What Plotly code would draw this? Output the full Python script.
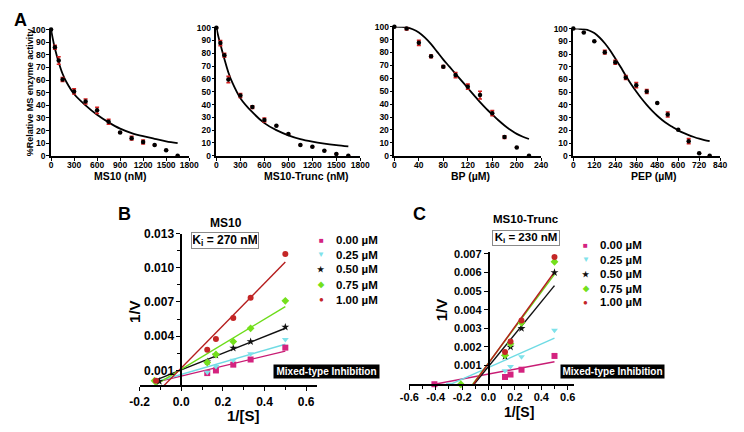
import plotly.graph_objects as go

# The page body has an 8px margin; the figure is sized/offset so that
# reference pixel coordinates map 1:1 onto the screenshot.
OFF = 8
FW, FH = 728, 416
FONT = "Liberation Sans, Arial, Helvetica, sans-serif"

# ---------------- Panel A data ----------------
ms10_x = [0, 50, 100, 150, 300, 450, 600, 750, 900, 1050, 1200, 1350, 1500, 1650]
ms10_y = [100, 86, 75.5, 60.5, 51, 43, 36, 27, 18.5, 14, 11, 8.5, 4.5, 0]
ms10_err = [0, 1.5, 3, 1.5, 2, 2, 2.5, 2, 0.5, 1.5, 1.5, 0, 0, 0]
ms10_fit_x = [0, 25, 50, 100, 150, 200, 300, 450, 600, 750, 900, 1050, 1200, 1350, 1500, 1650]
ms10_fit_y = [100, 92, 85, 74, 65, 58.5, 49, 40, 32.5, 26.5, 21.5, 18, 15.5, 13.5, 11.5, 10]

trunc_x = [0, 50, 100, 150, 300, 450, 600, 750, 900, 1050, 1200, 1350, 1500, 1650]
trunc_y = [100, 88, 78.5, 59.5, 47, 38, 28, 23.5, 17, 8.5, 7, 4, 1.5, 0]
trunc_err = [0, 2, 1.5, 2.5, 1.5, 1, 1.5, 0, 0, 0, 0, 0, 0, 0]
trunc_fit_x = [0, 25, 50, 100, 150, 200, 300, 450, 600, 750, 900, 1050, 1200, 1350, 1500, 1650]
trunc_fit_y = [100, 93, 87, 75.5, 65, 57, 45, 34, 25.5, 20, 16, 13, 11, 9.5, 8.3, 7.3]

bp_x = [0, 20, 40, 60, 80, 100, 120, 140, 160, 180, 200, 220]
bp_y = [100, 98.5, 87.5, 77, 69, 62.5, 53.5, 47, 33, 14.5, 6.5, 0]
bp_err = [0, 1, 2, 1, 0.8, 2, 2, 3, 2, 1, 0, 0]
bp_fit_x = [0, 10, 20, 30, 40, 50, 60, 70, 80, 90, 100, 110, 120, 130, 140, 150, 160, 170, 180, 190, 200, 210, 220]
bp_fit_y = [100, 99.9, 99.5, 98, 95.5, 91.5, 86.5, 80.5, 74.5, 69, 63.5, 58, 52.5, 47, 41.5, 36.5, 32, 27.5, 23.5, 20, 17, 14.8, 13]

pep_x = [0, 60, 120, 180, 240, 300, 360, 420, 480, 540, 600, 660, 720, 780]
pep_y = [100, 97, 90, 81.5, 73.5, 61.5, 55.5, 50.5, 41.5, 32.5, 20.5, 11.5, 2, 0]
pep_err = [0, 0, 0, 1.5, 1.5, 1.5, 2, 1.5, 0, 2, 0, 2, 0, 0]
pep_fit_x = [0, 30, 60, 90, 120, 150, 180, 210, 240, 270, 300, 330, 360, 390, 420, 450, 480, 510, 540, 570, 600, 630, 660, 690, 720, 750, 780]
pep_fit_y = [100, 99.9, 99.5, 98.5, 96.5, 93, 88.5, 83, 76.5, 70, 63, 56.5, 50.5, 45, 40, 35.5, 31.5, 28, 25, 22.5, 20, 18, 16.3, 14.8, 13.5, 12.4, 11.5]

# ---------------- Panel B data (MS10) ----------------
conc_labels = ["0.00 \u00b5M", "0.25 \u00b5M", "0.50 \u00b5M", "0.75 \u00b5M", "1.00 \u00b5M"]
b_x = {
    "0.00": [0.125, 0.1667, 0.25, 0.3333, 0.5],
    "0.25": [0.125, 0.1667, 0.25, 0.3333, 0.5],
    "0.50": [-0.105, 0.125, 0.1667, 0.25, 0.3333, 0.5],
    "0.75": [-0.128, 0.125, 0.1667, 0.25, 0.3333, 0.5],
    "1.00": [-0.121, 0.125, 0.1667, 0.25, 0.3333, 0.5],
}
b_y = {
    "0.00": [0.00077, 0.0010, 0.00151, 0.00196, 0.0030],
    "0.25": [0.00085, 0.00134, 0.0019, 0.00247, 0.00372],
    "0.50": [0.00005, 0.00177, 0.00234, 0.00296, 0.00353, 0.0048],
    "0.75": [0.0001, 0.0017, 0.0024, 0.00353, 0.00469, 0.0071],
    "1.00": [0.0001, 0.00281, 0.00375, 0.0056, 0.00738, 0.0112],
}
b_fit_x = {
    "0.00": [-0.10, 0.5], "0.25": [-0.10, 0.5], "0.50": [-0.12, 0.5],
    "0.75": [-0.136, 0.5], "1.00": [-0.087, 0.5],
}
b_fit_y = {
    "0.00": [0.00006, 0.0027], "0.25": [0.00012, 0.0033], "0.50": [0.00017, 0.0047],
    "0.75": [-0.0004, 0.0066], "1.00": [-0.0004, 0.0105],
}

# ---------------- Panel C data (MS10-Trunc) ----------------
c_x = {
    "0.00": [-0.41, 0.125, 0.1667, 0.25, 0.5],
    "0.25": [-0.30, 0.125, 0.1667, 0.25, 0.5],
    "0.50": [0.125, 0.1667, 0.25, 0.5],
    "0.75": [-0.21, 0.125, 0.1667, 0.25, 0.5],
    "1.00": [0.125, 0.1667, 0.25, 0.5],
}
c_y = {
    "0.00": [0.0, 0.00039, 0.00052, 0.00078, 0.00152],
    "0.25": [0.0, 0.00072, 0.00095, 0.00147, 0.0029],
    "0.50": [0.0015, 0.0020, 0.0030, 0.0060],
    "0.75": [0.0, 0.00156, 0.00217, 0.0033, 0.00658],
    "1.00": [0.00173, 0.0023, 0.00342, 0.00683],
}
c_fit_x = {
    "0.00": [-0.41, 0.5], "0.25": [-0.285, 0.5], "0.50": [-0.11, 0.5],
    "0.75": [-0.12, 0.5], "1.00": [-0.115, 0.5],
}
c_fit_y = {
    "0.00": [0.0, 0.00121], "0.25": [0.0, 0.00248], "0.50": [0.0, 0.0053],
    "0.75": [0.0, 0.0059], "1.00": [0.0, 0.00603],
}

keys = ["0.00", "0.25", "0.50", "0.75", "1.00"]
mk_color = {"0.00": "#d4237f", "0.25": "#7fe2ea", "0.50": "#111111", "0.75": "#74e01c", "1.00": "#c42626"}
ln_color = {"0.00": "#c81c74", "0.25": "#6fdbe4", "0.50": "#111111", "0.75": "#6cdc18", "1.00": "#b51d1d"}
mk_symbol = {"0.00": "square", "0.25": "triangle-down", "0.50": "star", "0.75": "diamond", "1.00": "circle"}
mk_glyph = {"0.00": "\u25a0", "0.25": "\u25bc", "0.50": "\u2605", "0.75": "\u25c6", "1.00": "\u25cf"}


def fx_(p):
    return (p - OFF) / FW


def fy_(p):
    return 1 - (p - OFF) / FH


def dx(a, b):
    return [fx_(a), fx_(b)]


def dy(top, bottom):
    return [fy_(bottom), fy_(top)]


fig = go.Figure()

# ---- Panel A traces ----
a_sets = [
    (ms10_x, ms10_y, ms10_err, ms10_fit_x, ms10_fit_y, "x", "y"),
    (trunc_x, trunc_y, trunc_err, trunc_fit_x, trunc_fit_y, "x2", "y2"),
    (bp_x, bp_y, bp_err, bp_fit_x, bp_fit_y, "x3", "y3"),
    (pep_x, pep_y, pep_err, pep_fit_x, pep_fit_y, "x4", "y4"),
]
for px, py, pe, fx, fy, xa, ya in a_sets:
    fig.add_trace(go.Scatter(x=fx, y=fy, mode="lines", line=dict(color="black", width=1.8, shape="spline"),
                             xaxis=xa, yaxis=ya, showlegend=False, hoverinfo="skip"))
    fig.add_trace(go.Scatter(x=px, y=py, mode="markers",
                             marker=dict(color="black", size=4.5, symbol="circle"),
                             error_y=dict(type="data", array=pe, color="#d42020", thickness=1.6, width=2),
                             xaxis=xa, yaxis=ya, showlegend=False, cliponaxis=False))

# ---- Panel B / C traces ----
for k in keys:
    fig.add_trace(go.Scatter(x=b_fit_x[k], y=b_fit_y[k], mode="lines", line=dict(color=ln_color[k], width=1.4),
                             xaxis="x5", yaxis="y5", showlegend=False, hoverinfo="skip"))
    fig.add_trace(go.Scatter(x=c_fit_x[k], y=c_fit_y[k], mode="lines", line=dict(color=ln_color[k], width=1.4),
                             xaxis="x6", yaxis="y6", showlegend=False, hoverinfo="skip"))
for k in keys:
    fig.add_trace(go.Scatter(x=b_x[k], y=b_y[k], mode="markers",
                             marker=dict(color=mk_color[k], size=6, symbol=mk_symbol[k]),
                             xaxis="x5", yaxis="y5", showlegend=False, cliponaxis=False))
    fig.add_trace(go.Scatter(x=c_x[k], y=c_y[k], mode="markers",
                             marker=dict(color=mk_color[k], size=6, symbol=mk_symbol[k]),
                             xaxis="x6", yaxis="y6", showlegend=False, cliponaxis=False))

axis_common = dict(showline=True, linecolor="black", linewidth=1.6, ticks="outside", ticklen=3,
                   tickwidth=1.2, tickcolor="black", showgrid=False, zeroline=False,
                   tickfont=dict(size=8.5, color="black", family=FONT, weight="bold"))

a_layout = [
    ("xaxis", "yaxis", "y", "x", (42, 184), (23, 153), [0, 1800], 300),
    ("xaxis2", "yaxis2", "y2", "x2", (212, 360), (21, 153), [0, 1800], 300),
    ("xaxis3", "yaxis3", "y3", "x3", (395, 546), (20, 153), [0, 240], 40),
    ("xaxis4", "yaxis4", "y4", "x4", (579, 730), (22, 153), [0, 840], 120),
]
lay = {}
for xname, yname, yanc, xanc, (l, r), (t, b), xr, xd in a_layout:
    lay[xname] = dict(axis_common, domain=dx(l, r), range=xr, dtick=xd, tick0=0, anchor=yanc,
                      ticklabelstandoff=-3)
    lay[yname] = dict(axis_common, domain=dy(t, b), range=[0, 100], dtick=10, tick0=0, anchor=xanc,
                      ticklabelstandoff=-1)

bc_common = dict(axis_common, linewidth=1.8, ticklen=4,
                 tickfont=dict(size=12, color="black", family=FONT, weight="bold"))

# Panel B axes
lay["xaxis5"] = dict(bc_common, domain=dx(133, 315), range=[-0.2, 0.65], anchor="y5",
                     tickvals=[-0.2, 0, 0.2, 0.4, 0.6], ticktext=["-0.2", "0.0", "0.2", "0.4", "0.6"],
                     minor=dict(tickvals=[-0.1, 0.1, 0.3, 0.5], ticks="outside", ticklen=3, tickcolor="black"))
lay["yaxis5"] = dict(bc_common, domain=dy(233, 389.3), range=[-0.0003, 0.013], anchor="free", position=fx_(176),
                     tickvals=[0.001, 0.004, 0.007, 0.010, 0.013],
                     ticktext=["0.001", "0.004", "0.007", "0.010", "0.013"],
                     minor=dict(tickvals=[0.0025, 0.0055, 0.0085, 0.0115], ticks="outside", ticklen=3,
                                tickcolor="black"))
# Panel C axes
c_font = dict(size=11, color="black", family=FONT, weight="bold")
lay["xaxis6"] = dict(bc_common, domain=dx(410.4, 580), range=[-0.6, 0.65], anchor="y6", tickfont=c_font,
                     ticklabelstandoff=-2,
                     tickvals=[-0.6, -0.4, -0.2, 0, 0.2, 0.4, 0.6],
                     ticktext=["-0.6", "-0.4", "-0.2", "0.0", "0.2", "0.4", "0.6"],
                     minor=dict(tickvals=[-0.5, -0.3, -0.1, 0.1, 0.3, 0.5], ticks="outside", ticklen=3,
                                tickcolor="black"))
lay["yaxis6"] = dict(bc_common, domain=dy(252.1, 388.2), range=[0, 0.0071], anchor="free", position=fx_(492),
                     tickfont=c_font,
                     tickvals=[0.001, 0.002, 0.003, 0.004, 0.005, 0.006, 0.007],
                     ticktext=["0.001", "0.002", "0.003", "0.004", "0.005", "0.006", "0.007"])

ann = []


def text(x, y, s, size, angle=0, color="black", xanchor="center", **kw):
    d = dict(x=fx_(x), y=fy_(y), xref="paper", yref="paper", text=s, showarrow=False,
             font=dict(size=size, color=color, family=FONT, weight="bold"), textangle=angle,
             xanchor=xanchor, yanchor="middle")
    d.update(kw)
    ann.append(d)


# Panel letters
text(11, 13, "A", 18)
text(117, 213, "B", 18)
text(421, 213, "C", 18)

# Panel A titles
text(20, 88, "%Relative MS enzyme activity", 9, angle=-90)
text(113, 174, "MS10 (nM)", 10.5)
text(305, 174, "MS10-Trunc (nM)", 10.5)
text(473, 174, "BP (\u00b5M)", 10.5)
text(662, 174, "PEP (\u00b5M)", 10.5)

# Panel B texts
text(222, 222, "MS10", 12)
text(221, 240, "K<sub>i</sub> = 270 nM", 12, bgcolor="white", bordercolor="#8a8a8a", borderwidth=1,
     borderpad=1, width=64, height=13)
text(127, 313, "1/V", 15, angle=-90)
text(240, 420, "1/[S]", 15)
text(325.5, 375, "Mixed-type Inhibition", 10, color="white", bgcolor="black", width=105, height=13, borderpad=0)

# Panel C texts
text(530, 218, "MS10-Trunc", 11.5)
text(530, 238, "K<sub>i</sub> = 230 nM", 11.5, bgcolor="white", bordercolor="#8a8a8a", borderwidth=1,
     borderpad=1, width=64, height=12)
text(443, 312, "1/V", 15, angle=-90)
text(523, 417, "1/[S]", 14)
text(619.5, 375.5, "Mixed-type Inhibition", 10, color="white", bgcolor="black", width=103, height=13, borderpad=0)

# Legends
b_rows = [240, 255, 270, 286, 301]
c_rows = [245, 260, 275, 290, 304]
for i, k in enumerate(keys):
    for mx, tx, ry in ((320, 333, b_rows[i]), (592, 604, c_rows[i])):
        text(mx, ry, mk_glyph[k], 8, color=mk_color[k])
        text(tx, ry, conc_labels[i], 11.5, xanchor="left")

fig.update_layout(
    width=FW, height=FH, margin=dict(l=0, r=0, t=0, b=0),
    paper_bgcolor="white", plot_bgcolor="white",
    font=dict(family=FONT, color="black"),
    showlegend=False, annotations=ann, **lay,
)

fig.write_html("out.html")
